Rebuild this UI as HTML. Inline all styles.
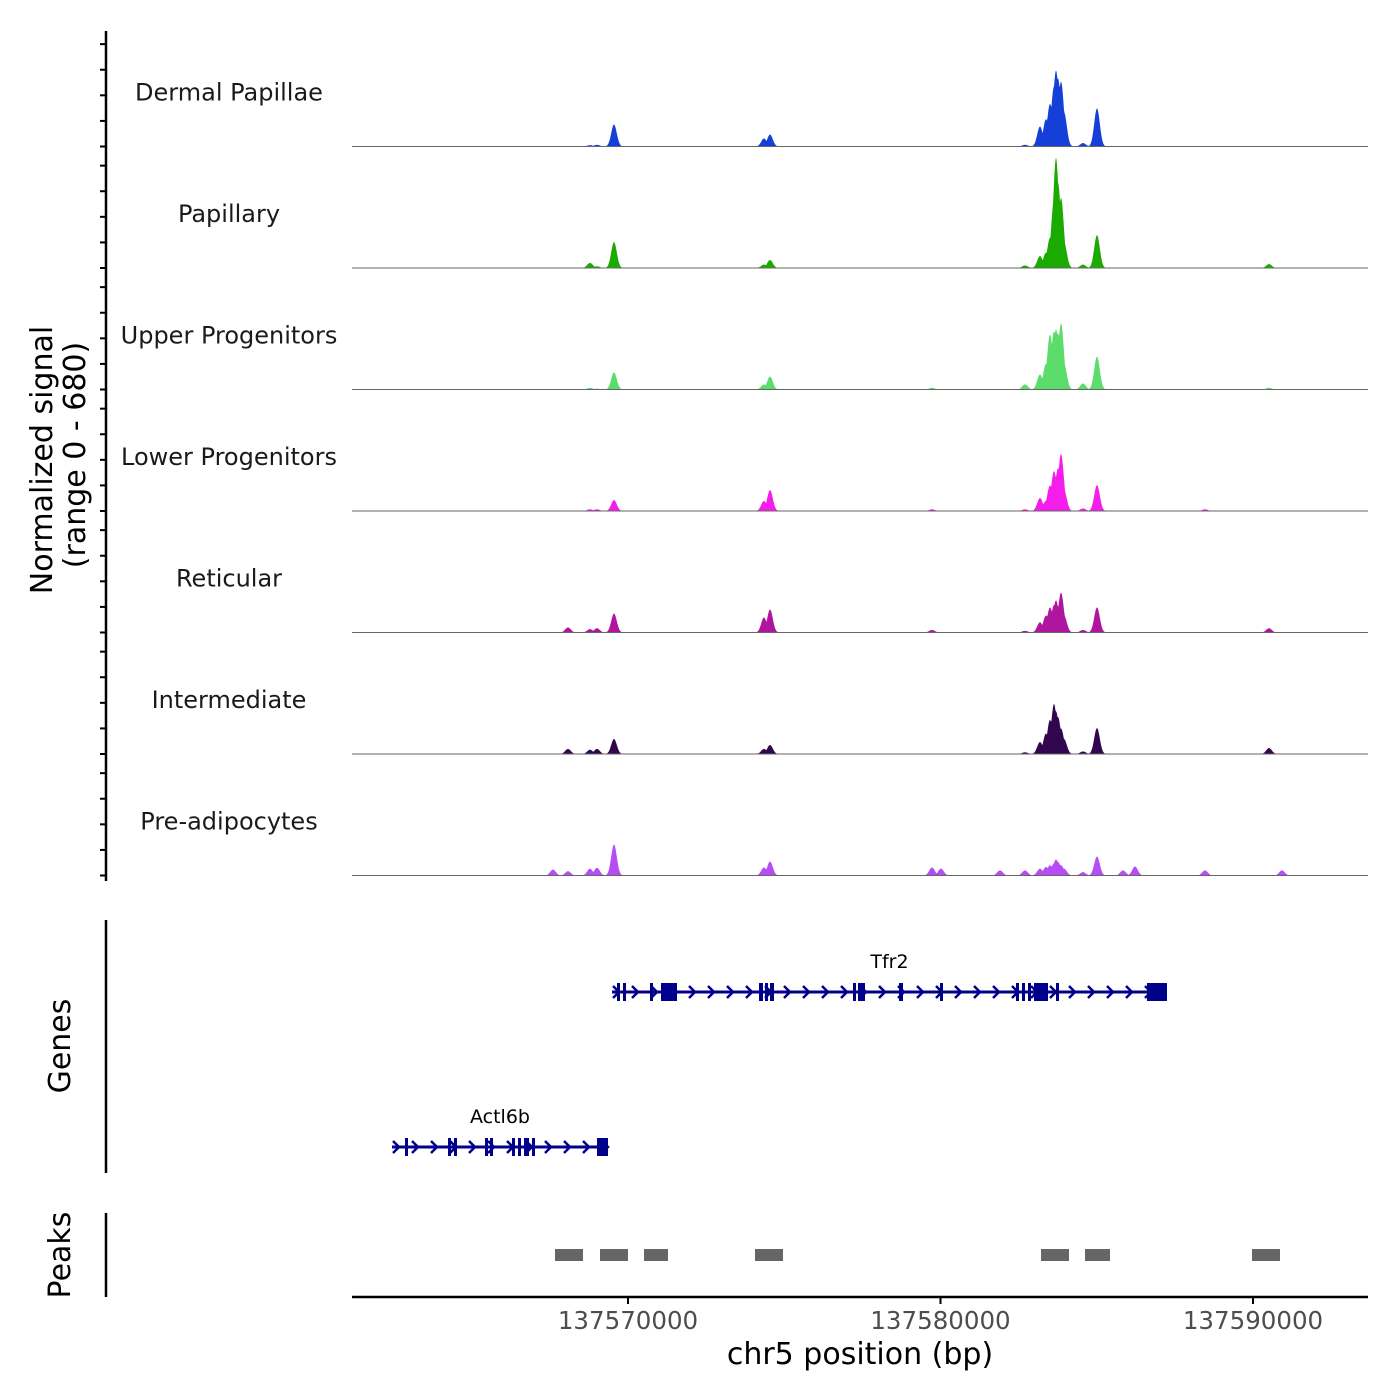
<!DOCTYPE html>
<html><head><meta charset="utf-8"><style>
html,body{margin:0;padding:0;background:#fff;}
svg{display:block;font-family:"DejaVu Sans","Liberation Sans",sans-serif;}
</style></head><body>
<svg id="chart" width="1400" height="1400" viewBox="0 0 1400 1400" xmlns="http://www.w3.org/2000/svg">
<g id="tracks"></g>
<g id="genes"></g>
<g id="peaks"></g>
<g id="axes"></g>
</svg>
<script>
const trackNames = ["Dermal Papillae","Papillary","Upper Progenitors","Lower Progenitors","Reticular","Intermediate","Pre-adipocytes"];
const trackColors = ["#1440D8","#1AAA00","#5BDC6B","#F41DEB","#B0159F","#32064F","#B54CF5"];
const peakPositions = [137567600,137568080,137568784,137569008,137569552,137574352,137574544,137579728,137580016,137581904,137582704,137583184,137583376,137583504,137583632,137583696,137583760,137583856,137583952,137584560,137585008,137585840,137586224,137588464,137590512,137590928];
const dermalValues = [0,0,8,10,129,47,70,0,0,0,10,117,160,250,352,445,400,380,200,20,223,0,0,0,0,0];
const papillaryValues = [0,0,30,10,152,20,47,0,0,0,15,70,90,176,400,645,500,410,150,20,193,0,0,0,23,0];
const upperValues = [0,0,10,5,100,30,76,10,0,0,30,88,150,322,340,352,330,387,150,35,193,0,0,0,10,0];
const lowerValues = [0,0,10,10,64,59,123,10,0,0,10,76,60,150,234,200,250,334,120,15,152,0,0,10,0,0];
const reticularValues = [0,30,20,25,111,88,135,15,0,0,10,60,100,147,160,188,150,234,100,15,147,0,0,0,25,0];
const intermediateValues = [0,30,25,30,88,30,53,0,0,0,10,70,120,200,293,250,217,150,88,15,152,0,0,0,35,0];
const preadipValues = [35,25,40,45,182,47,82,47,40,30,30,40,50,60,70,94,80,60,40,20,111,30,53,30,0,30];
const seriesValues = [dermalValues,papillaryValues,upperValues,lowerValues,reticularValues,intermediateValues,preadipValues];
const yMax = 680;
const yTickValues = [0,150,300,450,600];
const xTickValues = [137570000,137580000,137590000];
const xTickLabels = ["137570000","137580000","137590000"];
const geneNames = ["Tfr2","Actl6b"];
const geneStarts = [137569488,137562448];
const geneEnds = [137587248,137569360];
const tfr2Exons = [[137569648,137569744],[137569840,137569936],[137570704,137570800],[137571056,137571568],[137574192,137574320],[137574384,137574480],[137574544,137574672],[137577200,137577296],[137577360,137577584],[137578672,137578800],[137579984,137580080],[137582416,137582512],[137582608,137582704],[137582800,137582896],[137582992,137583440],[137583696,137583792],[137586608,137587248]];
const actl6bExons = [[137562864,137562960],[137564240,137564336],[137564432,137564528],[137565424,137565520],[137565584,137565680],[137566288,137566384],[137566480,137566576],[137566672,137566832],[137566928,137567024],[137569008,137569360]];
const geneExons = [tfr2Exons,actl6bExons];
const peakStarts = [137567664,137569104,137570512,137574064,137583216,137584624,137589968];
const peakEnds = [137568560,137570000,137571280,137574960,137584112,137585424,137590864];

const NS="http://www.w3.org/2000/svg";
const X0=352,X1=1368,BP0=137561168,BP1=137593680;
function x(bp){return X0+(bp-BP0)/(BP1-BP0)*(X1-X0);}
const trackTop=25, trackH=121.5, plotH=116;
function baseY(i){return trackTop+(i+1)*trackH;}
function y(i,v){return baseY(i)-v/yMax*plotH;}
function mk(tag,attrs,parent){const e=document.createElementNS(NS,tag);for(const k in attrs)e.setAttribute(k,attrs[k]);parent.appendChild(e);return e;}

const tracks=document.getElementById('tracks');
seriesValues.forEach((vals,i)=>{
  const g=mk('g',{},tracks);
  
  
  let d='M'+X0+','+baseY(i);
  for(let px=X0;px<=X1;px+=0.5){
    let s=0;
    peakPositions.forEach((p,k)=>{const dx=(px-x(p))/2.8;const v=vals[k]*Math.exp(-dx*dx/2);if(v>s)s=v;});
    d+=' L'+px+','+y(i,s).toFixed(2);
  }
  d+=' L'+X1+','+baseY(i)+' Z';
  const area=mk('path',{d:d,fill:trackColors[i],stroke:'none'},g);
  
  
  const bl=mk('line',{x1:X0,x2:X1,y1:baseY(i),y2:baseY(i),stroke:'#666','stroke-width':1},g);
  
  
  const t=mk('text',{x:229,y:baseY(i)-46,'text-anchor':'middle','font-size':24,fill:'#1a1a1a'},g);
  t.textContent=trackNames[i];
  
  
});

const axes=document.getElementById('axes');
function line(x1,y1,x2,y2,w,parent,name){const l=mk('line',{x1:x1,y1:y1,x2:x2,y2:y2,stroke:'#000','stroke-width':w},parent);return l;}
line(106,31,106,881,2.5,axes,'y-axis-line');
seriesValues.forEach((v,i)=>{yTickValues.forEach(tv=>{line(100,y(i,tv),106,y(i,tv),2,axes,'y-tick');});});
line(106,920,106,1173,2.5,axes,'genes-axis-line');
line(106,1213,106,1297,2.5,axes,'peaks-axis-line');
line(352,1297,1368,1297,2.5,axes,'x-axis-line');
xTickValues.forEach((tv,k)=>{
  line(x(tv),1297,x(tv),1304,2,axes,'x-tick');
  const t=mk('text',{x:x(tv),y:1329,'text-anchor':'middle','font-size':24.5,fill:'#4d4d4d'},axes);
  t.textContent=xTickLabels[k];
  
  
});
function txt(s,xx,yy,size,rot,name){const t=mk('text',{x:xx,y:yy,'text-anchor':'middle','font-size':size,fill:'#000'},axes);if(rot)t.setAttribute('transform','rotate(-90 '+xx+' '+yy+')');t.textContent=s;}
txt('Normalized signal',52,460,30,true,'y-axis-title');
txt('(range 0 - 680)',85,455,30,true,'y-axis-subtitle');
txt('Genes',70,1046,30,true,'genes-title');
txt('Peaks',70,1255,30,true,'peaks-title');
txt('chr5 position (bp)',860,1364,30,false,'x-axis-title');

const genes=document.getElementById('genes');
const geneY=[992,1147];
geneNames.forEach((n,gi)=>{
  const g=mk('g',{},genes);
  
  
  const gy=geneY[gi], xs=x(geneStarts[gi]), xe=x(geneEnds[gi]);
  mk('line',{x1:xs,x2:xe,y1:gy,y2:gy,stroke:'#00008B','stroke-width':3},g);
  for(let ax=xs+4;ax<xe-2;ax+=19){mk('path',{d:'M'+(ax-3)+','+(gy-6)+' L'+(ax+3)+','+gy+' L'+(ax-3)+','+(gy+6),fill:'none',stroke:'#00008B','stroke-width':2.5},g);}
  geneExons[gi].forEach(e=>{const r=mk('rect',{x:x(e[0]),y:gy-9,width:Math.max(2.5,x(e[1])-x(e[0])),height:18,fill:'#00008B'},g);});
  const t=mk('text',{x:(xs+xe)/2,y:gy-24,'text-anchor':'middle','font-size':19,fill:'#000'},g);
  t.textContent=n;
  
  
});

const peaks=document.getElementById('peaks');
peakStarts.forEach((s,k)=>{
  const r=mk('rect',{x:x(s),y:1249,width:x(peakEnds[k])-x(s),height:12,fill:'#666'},peaks);
  
  
});
</script>
</body></html>
